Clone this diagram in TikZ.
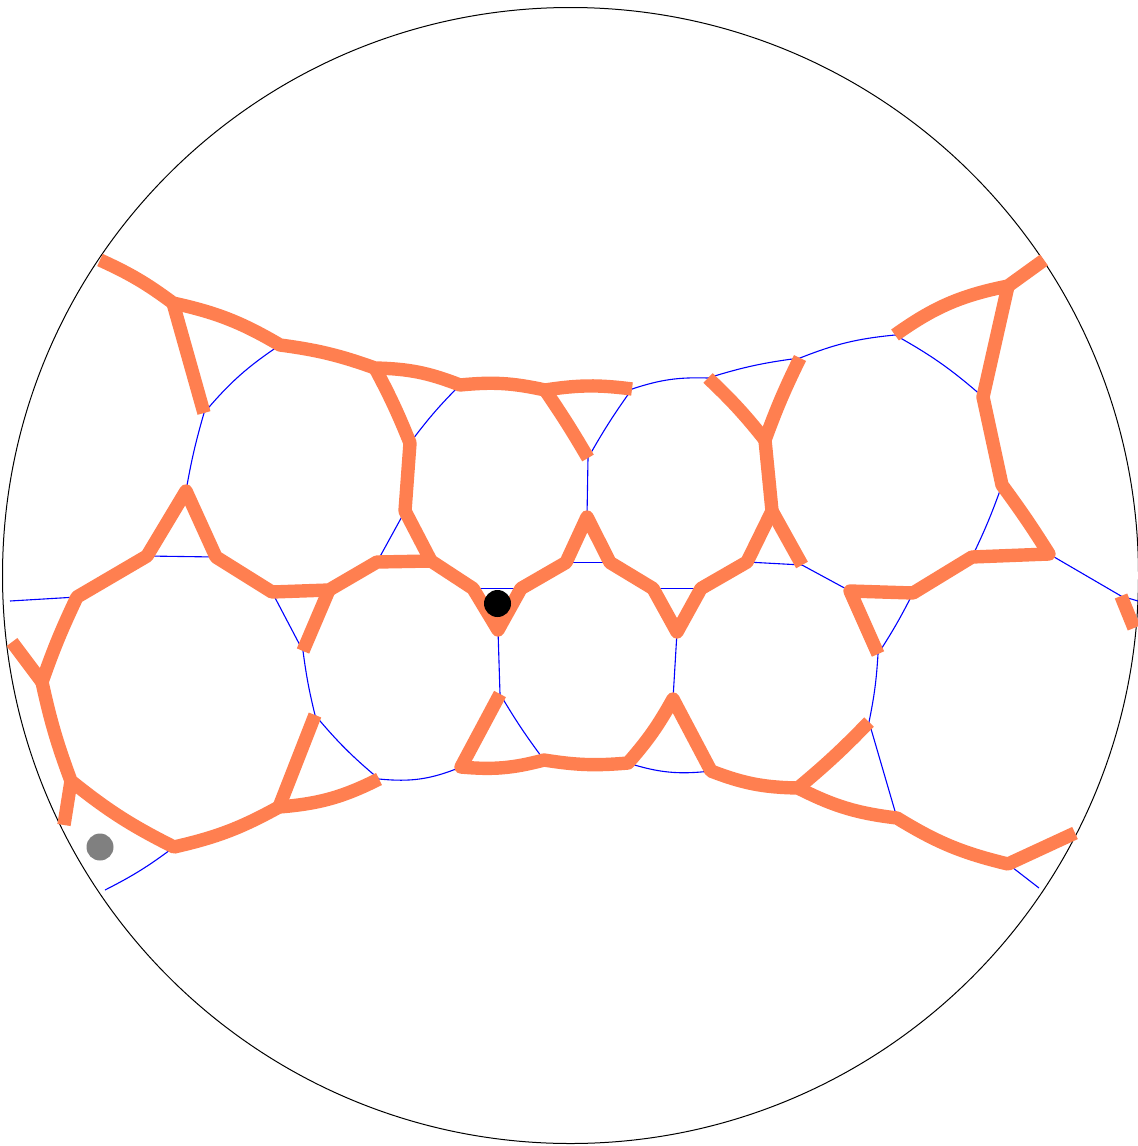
\documentclass[tikz,border=0pt]{standalone}
\definecolor{coralo}{HTML}{FF7F50}
\tikzset{
  disk/.style={draw=black,line width=0.5pt},
  thin blue/.style={draw=blue,line width=0.55pt},
  thick coral/.style={draw=coralo,line width=6.7pt,line join=round,line cap=butt},
  dot/.style={circle,draw=none,inner sep=0pt,minimum size=13.5pt}
}
\begin{document}
\begin{tikzpicture}[x=0.5pt,y=-0.5pt]
\path[use as bounding box] (0,0) rectangle (1138,1146);
% named vertices
\coordinate (c) at (570.5,575.5);
\coordinate (a1) at (100,260);   \coordinate (a2) at (173,303);  \coordinate (a3) at (280,345);
\coordinate (a4) at (375,368);   \coordinate (a5) at (460,385);  \coordinate (a6) at (545,390);
\coordinate (a7) at (632,389);   \coordinate (b1) at (204,413);
\coordinate (c1) at (410,443);   \coordinate (c2) at (405,511);  \coordinate (c3) at (431,561);
\coordinate (l0) at (12,642);    \coordinate (l1) at (42,682);   \coordinate (l2) at (77,597);
\coordinate (l3) at (147,556);   \coordinate (l4) at (186,491);  \coordinate (l5) at (216,557);
\coordinate (l6) at (272,592);   \coordinate (l7) at (329,590);  \coordinate (l8) at (377,562);
\coordinate (l9) at (473,588.5); \coordinate (v1) at (498,630);  \coordinate (l10) at (521,588.5);
\coordinate (l11) at (566,562.5);\coordinate (t1) at (587,517);  \coordinate (l12) at (610,562.5);
\coordinate (l13) at (653,588.5);\coordinate (v2) at (677,632);  \coordinate (l14) at (701,588.5);
\coordinate (l15) at (747,562);  \coordinate (l16) at (772,511); \coordinate (l17) at (765,440);
\coordinate (l18) at (800,358);  \coordinate (l19) at (708,378); \coordinate (l20) at (802,565);
\coordinate (m1) at (588,458);   \coordinate (s1) at (303,651);
\coordinate (p1) at (71,781);    \coordinate (p2) at (64,825);   \coordinate (p3) at (174,847);
\coordinate (p4) at (279,807);   \coordinate (p5) at (379,779);  \coordinate (p6) at (315,715);
\coordinate (q1) at (500,694);   \coordinate (q2) at (461,767);  \coordinate (q3) at (544,760);
\coordinate (q4) at (628,763);   \coordinate (q5) at (673,699);  \coordinate (q6) at (711,771);
\coordinate (q7) at (798,788);   \coordinate (q8) at (897,818);  \coordinate (q9) at (1008,864);
\coordinate (q10) at (1075,833); \coordinate (q11) at (869,722);
\coordinate (r1) at (895,335);   \coordinate (r2) at (1008,286); \coordinate (r3) at (1044,260);
\coordinate (r4) at (983,397);   \coordinate (r5) at (1002,485); \coordinate (r6) at (1049,554);
\coordinate (r7) at (972,557);   \coordinate (r8) at (913,593);  \coordinate (r9) at (850,591);
\coordinate (r10) at (878,654);  \coordinate (u1) at (1121,596); \coordinate (u2) at (1134,628);
\coordinate (e1) at (10,601);    \coordinate (e2) at (105,890);  \coordinate (e3) at (1039,888);
\coordinate (e4) at (1138,601);
% bounding disc
\draw[disk] (c) circle[radius=568];
% blue edges
\draw[thin blue] (a3) to[bend right=8] (b1) to[bend right=3] (l4);
\draw[thin blue] (l3) -- (l5);
\draw[thin blue] (l2) -- (e1);
\draw[thin blue] (l6) -- (s1) to[bend right=3] (p6) to[bend right=5] (p5) to[bend right=14] (q2);
\draw[thin blue] (c1) to[bend left=4] (a5);
\draw[thin blue] (c2) -- (l8);
\draw[thin blue] (l9) -- (l10);
\draw[thin blue] (v1) -- (q1) to[bend right=3] (q3);
\draw[thin blue] (t1) -- (m1) to[bend left=3] (a7) to[bend left=10] (l19) to[bend left=5] (l18) to[bend left=8] (r1) to[bend left=6] (r4);
\draw[thin blue] (r5) to[bend left=3] (r7);
\draw[thin blue] (r6) -- (u1) -- (e4);
\draw[thin blue] (l20) -- (r9);
\draw[thin blue] (l15) -- (l20);
\draw[thin blue] (r8) to[bend left=3] (r10) to[bend left=4] (q11) -- (q8);
\draw[thin blue] (q9) -- (e3);
\draw[thin blue] (p3) to[bend left=5] (e2);
\draw[thin blue] (q4) to[bend right=12] (q6);
\draw[thin blue] (q5) -- (v2);
\draw[thin blue] (l11) -- (l12);
\draw[thin blue] (l13) -- (l14);
% coral paths
\draw[thick coral] (a1) to[bend left=6] (a2) to[bend left=9] (a3) to[bend left=6] (a4)
   to[bend left=10] (a5) to[bend left=9] (a6) to[bend left=8] (a7);
\draw[thick coral] (a2) -- (b1);
\draw[thick coral] (a4) to[bend left=3] (c1) -- (c2) -- (c3);
\draw[thick coral] (a6) to[bend left=2] (m1);
\draw[thick coral] (l0) -- (l1) to[bend left=3] (l2) -- (l3) -- (l4) -- (l5) -- (l6) -- (l7) -- (l8) -- (c3)
   -- (l9) -- (v1) -- (l10) -- (l11) -- (t1) -- (l12) -- (l13) -- (v2) -- (l14) -- (l15) -- (l16) -- (l17)
   to[bend left=3] (l18);
\draw[thick coral] (l17) to[bend right=4] (l19);
\draw[thick coral] (l16) -- (l20);
\draw[thick coral] (l7) -- (s1);
\draw[thick coral] (l1) to[bend right=4] (p1) to[bend right=6] (p3) to[bend right=8] (p4) to[bend right=11] (p5);
\draw[thick coral] (p1) -- (p2);
\draw[thick coral] (p4) -- (p6);
\draw[thick coral] (q1) -- (q2) to[bend right=10] (q3) to[bend right=7] (q4) to[bend right=6] (q5)
   -- (q6) to[bend right=10] (q7) to[bend right=10] (q8) to[bend right=9] (q9) -- (q10);
\draw[thick coral] (q7) to[bend right=3] (q11);
\draw[thick coral] (r1) to[bend left=12] (r2) -- (r3);
\draw[thick coral] (r2) -- (r4) -- (r5) to[bend left=2] (r6) -- (r7) -- (r8) -- (r9) -- (r10);
\draw[thick coral] (u1) -- (u2);
% markers
\node[dot,fill=black] (blackdot) at (497.5,603.5) {};
\node[dot,fill=gray] (graydot) at (100,847) {};
\end{tikzpicture}
\end{document}
